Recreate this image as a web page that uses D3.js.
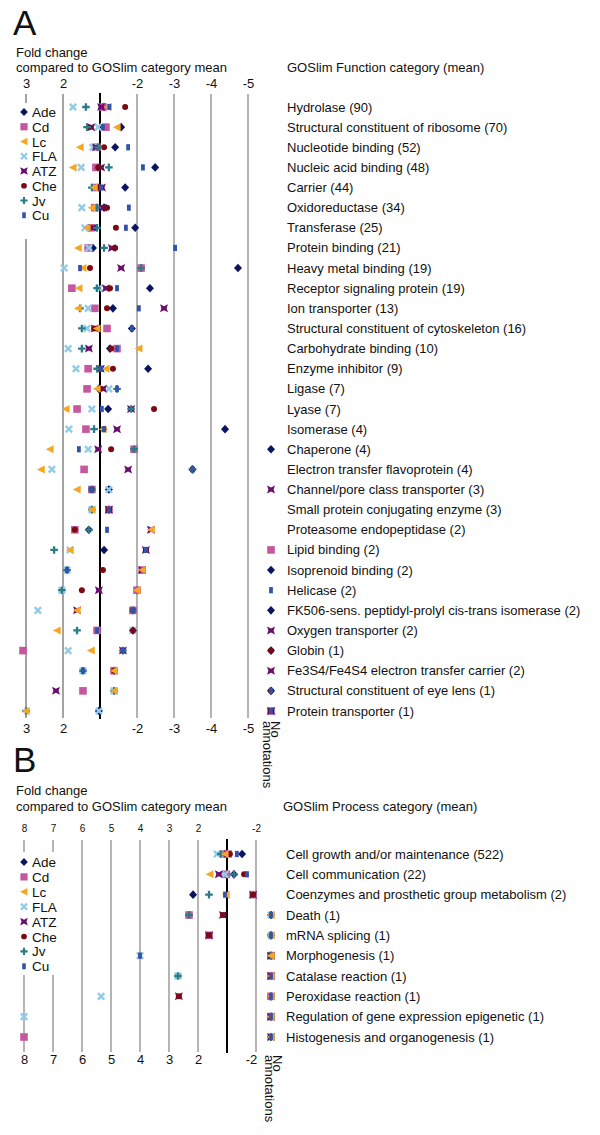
<!DOCTYPE html>
<html><head><meta charset="utf-8">
<script src="https://cdn.jsdelivr.net/npm/d3@7"></script>
<style>body{margin:0;background:#fff} svg{display:block} text{font-family:"Liberation Sans",Arial,Helvetica,sans-serif;fill:#111}</style>
</head><body><svg id="c" width="600" height="1135"></svg>
<script>
// ---------- DATA ----------
const seriesNames = ["Ade","Cd","Lc","FLA","ATZ","Che","Jv","Cu"];

// Panel A : GOSlim Function categories
const funcCategories = ["Hydrolase (90)","Structural constituent of ribosome (70)","Nucleotide binding (52)","Nucleic acid binding (48)","Carrier (44)","Oxidoreductase (34)","Transferase (25)","Protein binding (21)","Heavy metal binding (19)","Receptor signaling protein (19)","Ion transporter (13)","Structural constituent of cytoskeleton (16)","Carbohydrate binding (10)","Enzyme inhibitor (9)","Ligase (7)","Lyase (7)","Isomerase (4)","Chaperone (4)","Electron transfer flavoprotein (4)","Channel/pore class transporter (3)","Small protein conjugating enzyme (3)","Proteasome endopeptidase (2)","Lipid binding (2)","Isoprenoid binding (2)","Helicase (2)","FK506-sens. peptidyl-prolyl cis-trans isomerase (2)","Oxygen transporter (2)","Globin (1)","Fe3S4/Fe4S4 electron transfer carrier (2)","Structural constituent of eye lens (1)","Protein transporter (1)"];
// signed fold change; null = no annotations
const funcAde = [-1.1,-1.57,-1.41,-2.49,-1.68,-1.11,-1.95,1.19,-4.73,-2.35,-1.35,-1.86,-1.27,-2.3,1.03,-1.22,-4.38,null,-3.5,-1.24,-1.24,1.3,-1.11,null,-2.0,null,-1.89,null,-1.38,null,1.03];
const funcCd  = [-1.08,-1.16,1.08,1.11,1.11,1.14,1.24,1.32,-2.11,1.76,1.14,-1.19,-1.46,1.32,1.35,1.62,1.38,-1.92,1.43,1.22,-1.24,1.68,null,-2.14,-2.0,-1.89,1.08,3.08,-1.38,1.46,null];
const funcLc  = [-1.22,-1.46,1.54,1.73,1.16,1.22,1.35,1.59,1.46,1.57,1.59,1.08,-2.05,-1.16,1.08,1.92,-1.08,2.35,2.59,1.62,1.22,-2.38,1.81,-2.14,-2.0,1.62,2.16,1.24,-1.38,-1.38,3.0];
const funcFLA = [1.73,1.05,1.19,1.51,1.14,1.49,1.41,1.3,1.97,1.03,1.32,1.35,1.86,1.65,-1.24,1.22,1.84,1.32,2.3,-1.24,1.22,-2.38,1.81,1.89,2.03,2.68,-1.89,1.86,1.46,-1.38,1.03];
const funcATZ = [-1.03,1.24,1.11,-1.03,-1.05,-1.08,1.19,-1.32,-1.57,-1.16,-2.73,1.14,1.3,-1.02,-1.08,-1.84,-1.46,1.05,-1.76,null,-1.24,-2.38,-2.24,-2.14,1.03,1.62,null,-1.62,null,2.19,null];
const funcChe = [-1.68,1.3,-1.11,1.05,1.05,-1.19,-1.43,-1.41,1.27,-1.27,-1.19,1.16,-1.3,-1.35,-1.02,-2.46,-1.1,-1.3,-3.5,1.22,-1.24,1.68,-2.24,-1.08,1.49,-1.89,-1.89,null,-1.38,null,null];
const funcJv  = [1.38,1.35,1.05,-1.24,1.22,1.08,1.08,-1.11,-2.11,1.08,1.54,1.49,1.49,1.08,-1.46,-1.84,1.16,-1.92,-3.5,1.22,1.22,1.3,2.24,1.89,2.03,-1.89,1.62,-1.62,1.46,-1.38,3.0];
const funcCu  = [-1.25,-1.08,-1.76,-2.16,-1.03,-1.78,-1.7,-3.03,1.54,-1.46,-2.05,-1.86,-1.46,-1.03,-1.46,-1.05,-1.11,1.57,-3.5,1.22,-1.24,-1.19,-2.24,1.89,null,-1.89,1.08,-1.62,1.46,null,null];
const funcTicks = [3,2,-2,-3,-4,-5];

// Panel B : GOSlim Process categories
const procCategories = ["Cell growth and/or maintenance (522)","Cell communication (22)","Coenzymes and prosthetic group metabolism (2)","Death (1)","mRNA splicing (1)","Morphogenesis (1)","Catalase reaction (1)","Peroxidase reaction (1)","Regulation of gene expression epigenetic (1)","Histogenesis and organogenesis (1)"];
const procAde = [-1.52,-1.24,2.17,null,null,null,null,null,null,null];
const procCd  = [1.03,1.02,-1.9,2.31,1.62,null,null,null,null,8.0];
const procLc  = [1.07,1.59,1.03,null,null,null,null,null,null,null];
const procFLA = [1.34,1.07,-1.9,null,null,4.0,2.69,5.34,8.0,null];
const procATZ = [-1.03,1.28,-1.9,1.14,1.62,null,null,2.66,null,null];
const procChe = [-1.1,-1.59,-1.9,1.14,1.62,null,null,2.66,null,null];
const procJv  = [1.21,-1.24,1.62,2.31,null,null,2.69,null,null,null];
const procCu  = [-1.34,-1.69,1.07,null,null,4.0,null,null,null,null];
const procTicks = [8,7,6,5,4,3,2,-2];

// ---------- STYLE ----------
const colors = {Ade:"#0b1460",Cd:"#c4579d",Lc:"#f6a623",FLA:"#92cbe8",ATZ:"#6a0d6c",Che:"#7b0a12",Jv:"#2c7c86",Cu:"#3353aa"};
const drawOrder = ["Ade","Cd","FLA","ATZ","Che","Jv","Lc","Cu"];
const font = '"Liberation Sans",Arial,Helvetica,sans-serif';

const svg = d3.select("#c");

function marker(g, s, x, y, k) {
  k = k || 1;
  const m = g.append("g").attr("transform", `translate(${x},${y}) scale(${k})`);
  const c = colors[s];
  switch (s) {
    case "Ade": m.append("path").attr("d","M0,-4.3L4,0L0,4.3L-4,0Z").attr("fill",c); break;
    case "Cd": m.append("rect").attr("x",-3.8).attr("y",-3.8).attr("width",7.6).attr("height",7.6).attr("fill",c); break;
    case "Lc": m.append("path").attr("d","M-4.2,0L3.6,-4L3.6,4Z").attr("fill",c); break;
    case "FLA": m.append("path").attr("d","M-3.2,-3.2L3.2,3.2M-3.2,3.2L3.2,-3.2").attr("stroke",c).attr("stroke-width",2.4).attr("fill","none"); break;
    case "ATZ": m.append("path").attr("d","M-4,-4L0,-2L4,-4L2.6,0L4,4L0,2L-4,4L-2.6,0Z").attr("fill",c); break;
    case "Che": m.append("circle").attr("r",3).attr("fill",c); break;
    case "Jv": m.append("path").attr("d","M-3.8,0H3.8M0,-3.8V3.8").attr("stroke",c).attr("stroke-width",2.3).attr("fill","none"); break;
    case "Cu": m.append("rect").attr("x",-1.9).attr("y",-3.1).attr("width",3.8).attr("height",6.2).attr("fill",c); break;
  }
}

function toU(f) { return f > 0 ? f - 1 : f + 1; }

function panel(cfg) {
  const g = svg.append("g");
  const x = d3.scaleLinear().domain(cfg.uDomain).range(cfg.xRange);
  const y = d3.scalePoint().domain(cfg.categories).range(cfg.yRange);

  // letter + headers
  g.append("text").attr("x", 13).attr("y", cfg.letterY).attr("font-size", 35).text(cfg.letter);
  g.append("text").attr("x", 16).attr("y", cfg.headY).attr("font-size", 13).text("Fold change");
  g.append("text").attr("x", 16).attr("y", cfg.headY + 15.5).attr("font-size", 13).text("compared to GOSlim category mean");
  g.append("text").attr("x", cfg.catHeadX).attr("y", cfg.headY + 15.5).attr("font-size", 13).text(cfg.catHead);

  // gridlines
  cfg.ticks.forEach(t => {
    g.append("line").attr("x1", x(toU(t))).attr("x2", x(toU(t)))
      .attr("y1", cfg.gridTop).attr("y2", cfg.gridBottom)
      .attr("stroke", cfg.gridColor(t)).attr("stroke-width", cfg.gridWidth(t));
  });
  g.append("line").attr("x1", x(0)).attr("x2", x(0)).attr("y1", cfg.gridTop - 1).attr("y2", cfg.gridBottom + 1)
    .attr("stroke", "#000").attr("stroke-width", 2);

  // top tick labels
  const topAxis = d3.axisTop(x)
    .tickValues(cfg.ticks.map(toU)).tickFormat((d, i) => cfg.ticks[i]).tickSize(0).tickPadding(0);
  const ta = g.append("g").attr("transform", `translate(0,${cfg.topTickY})`).call(topAxis);
  ta.select(".domain").remove();
  ta.selectAll("text").attr("font-size", cfg.topTickSize).attr("font-family", font).attr("fill", cfg.topTickColor).attr("dy", 0);

  const botAxis = d3.axisBottom(x)
    .tickValues(cfg.ticks.map(toU)).tickFormat((d, i) => cfg.ticks[i]).tickSize(0).tickPadding(0);
  const ba = g.append("g").attr("transform", `translate(0,${cfg.botTickY})`).call(botAxis);
  ba.select(".domain").remove();
  ba.selectAll("text").attr("font-size", 13).attr("font-family", font).attr("fill", "#111").attr("dy", 0)
    .attr("dx", (d, i) => (i === cfg.ticks.length - 1 ? cfg.lastBotDx : 0));

  // legend box (white) covering gridlines
  g.append("rect").attr("x", 14).attr("y", cfg.legendTop).attr("width", 46).attr("height", cfg.legendBottom - cfg.legendTop).attr("fill", "#fff");
  seriesNames.forEach((s, i) => {
    const ly = cfg.legendY0 + i * cfg.legendStep;
    marker(g, s, 24, ly, 0.95);
    g.append("text").attr("x", 32).attr("y", ly + 5).attr("font-size", 13.5).text(s);
  });

  // category labels
  cfg.categories.forEach(c => {
    g.append("text").attr("x", cfg.labelX).attr("y", y(c) + 4.5).attr("font-size", 13).text(c);
  });

  // markers
  drawOrder.forEach(s => {
    const vals = cfg.values[s];
    vals.forEach((v, i) => {
      const cy = y(cfg.categories[i]);
      const cx = v === null ? cfg.naX : x(toU(v));
      marker(g, s, cx, cy, 1);
    });
  });

  // "No annotations"
  const na = g.append("g").attr("font-size", 13);
  na.append("text").attr("transform", `translate(${cfg.noX},${cfg.noY}) rotate(90)`).text("No");
  na.append("text").attr("transform", `translate(${cfg.noX - 8.5},${cfg.noY}) rotate(90)`).text("annotations");
}

panel({
  letter: "A", letterY: 35, headY: 56.5, catHead: "GOSlim Function category (mean)", catHeadX: 287,
  categories: funcCategories,
  values: {Ade: funcAde, Cd: funcCd, Lc: funcLc, FLA: funcFLA, ATZ: funcATZ, Che: funcChe, Jv: funcJv, Cu: funcCu},
  uDomain: [2, -4], xRange: [26, 248], yRange: [107, 711],
  ticks: funcTicks,
  gridTop: 94, gridBottom: 718,
  gridColor: t => (t === 3 || t === 2) ? "#a3a3a3" : "#8a8a8a",
  gridWidth: t => (t === 3 || t === 2) ? 2 : 1.3,
  topTickY: 88, topTickSize: 13, topTickColor: "#111", botTickY: 733, lastBotDx: 0,
  legendTop: 103, legendBottom: 239, legendY0: 112, legendStep: 14.75,
  labelX: 287, naX: 271, noX: 271, noY: 721
});

panel({
  letter: "B", letterY: 772, headY: 795, catHead: "GOSlim Process category (mean)", catHeadX: 283,
  categories: procCategories,
  values: {Ade: procAde, Cd: procCd, Lc: procLc, FLA: procFLA, ATZ: procATZ, Che: procChe, Jv: procJv, Cu: procCu},
  uDomain: [7, -1], xRange: [24, 256], yRange: [854, 1037],
  ticks: procTicks,
  gridTop: 840, gridBottom: 1052,
  gridColor: t => "#777",
  gridWidth: t => 1.1,
  topTickY: 832, topTickSize: 10, topTickColor: "#444", botTickY: 1064, lastBotDx: -5,
  legendTop: 852, legendBottom: 975, legendY0: 862, legendStep: 14.9,
  labelX: 286, naX: 271, noX: 273, noY: 1055
});
</script>
</body></html>
